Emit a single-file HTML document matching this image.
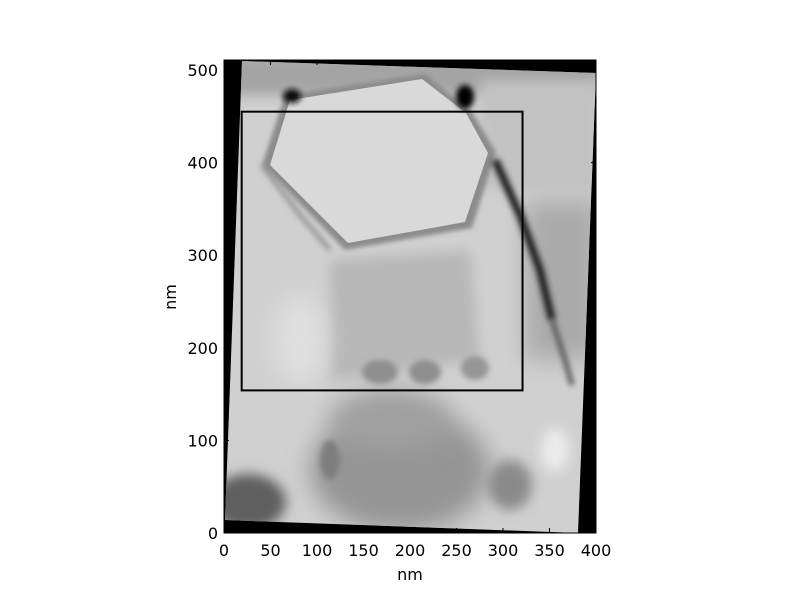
<!DOCTYPE html>
<html><head><meta charset="utf-8"><style>
html,body{margin:0;padding:0;background:#fff;}
svg{display:block;font-family:"DejaVu Sans","Liberation Sans",sans-serif;}
</style></head><body>
<svg id="chart" width="800" height="595" viewBox="0 0 800 595">
<defs>
<filter id="b6" x="-30%" y="-30%" width="160%" height="160%"><feGaussianBlur stdDeviation="6"/></filter>
<filter id="b3" x="-30%" y="-30%" width="160%" height="160%"><feGaussianBlur stdDeviation="3"/></filter>
<filter id="b2" x="-30%" y="-30%" width="160%" height="160%"><feGaussianBlur stdDeviation="2"/></filter>
<filter id="b12" x="-50%" y="-50%" width="200%" height="200%"><feGaussianBlur stdDeviation="12"/></filter>
<clipPath id="ax"><rect x="224" y="60" width="372" height="473"/></clipPath>
<clipPath id="img"><polygon points="242,61 596,73 578,533 225,520 "/></clipPath>
</defs>
<g clip-path="url(#ax)">
<rect x="224" y="60" width="372" height="473" fill="#000"/>
<g clip-path="url(#img)">
<rect x="220" y="55" width="380" height="485" fill="#d0d0d0"/>
<rect x="220" y="55" width="380" height="40" fill="#a4a4a4" filter="url(#b6)"/>
<rect x="480" y="80" width="120" height="110" fill="#c2c2c2" filter="url(#b6)"/>
<rect x="525" y="200" width="75" height="160" fill="#aaaaaa" filter="url(#b12)"/>
<polygon points="330,260 470,250 480,360 330,380" fill="#b8b8b8" filter="url(#b6)"/>
<ellipse cx="400" cy="470" rx="90" ry="62" fill="#959595" filter="url(#b12)"/>
<ellipse cx="390" cy="420" rx="60" ry="30" fill="#a0a0a0" filter="url(#b12)"/>
<ellipse cx="248" cy="502" rx="38" ry="28" fill="#5e5e5e" filter="url(#b6)"/>
<ellipse cx="380" cy="372" rx="18" ry="12" fill="#8e8e8e" filter="url(#b3)"/>
<ellipse cx="425" cy="372" rx="16" ry="12" fill="#8e8e8e" filter="url(#b3)"/>
<ellipse cx="475" cy="368" rx="14" ry="12" fill="#959595" filter="url(#b3)"/>
<ellipse cx="330" cy="460" rx="10" ry="20" fill="#7e7e7e" filter="url(#b3)"/>
<ellipse cx="510" cy="485" rx="22" ry="25" fill="#8a8a8a" filter="url(#b6)"/>
<ellipse cx="555" cy="450" rx="14" ry="22" fill="#ececec" filter="url(#b6)"/>
<ellipse cx="300" cy="340" rx="25" ry="45" fill="#e0e0e0" filter="url(#b12)"/>
<polygon points="285,95 425,74 472,112 496,152 472,228 345,250 262,165" fill="#8c8c8c" filter="url(#b2)"/>
<polygon points="290,100 422,79 466,113 488,153 465,222 348,243 270,165" fill="#d9d9d9"/>
<path d="M495,160 L520,215 L540,270 L552,320" stroke="#222" stroke-width="8" fill="none" filter="url(#b3)"/>
<path d="M552,320 L565,360 L572,385" stroke="#555" stroke-width="5" fill="none" filter="url(#b3)"/>
<ellipse cx="292" cy="96" rx="9" ry="7" fill="#111" filter="url(#b3)"/>
<ellipse cx="465" cy="97" rx="9" ry="12" fill="#000" filter="url(#b3)"/>
<path d="M262,165 L300,215 L330,250" stroke="#8a8a8a" stroke-width="4" fill="none" filter="url(#b3)"/>
</g>
</g>
<g id="overlay"></g>
<rect x="224" y="60" width="372" height="473" fill="none" stroke="#000" stroke-width="1"/>
<g id="axes"></g>
<text x="410" y="580" text-anchor="middle" font-size="16">nm</text>
<text x="176" y="297" text-anchor="middle" font-size="16" transform="rotate(-90 176 297)">nm</text>
</svg>
<script>
const xTicks = [0, 50, 100, 150, 200, 250, 300, 350, 400];
const yTicks = [0, 100, 200, 300, 400, 500];
const roiX = [19, 321];
const roiY = [154, 455];
const X0 = 224, X1 = 596, Y0 = 533;
const sx = v => X0 + (v / 400) * (X1 - X0);
const sy = v => Y0 - v * 0.926;
const NS = "http://www.w3.org/2000/svg";
const axes = document.getElementById('axes');
const ov = document.getElementById('overlay');
const r = document.createElementNS(NS, 'rect');
r.setAttribute('x', sx(roiX[0])); r.setAttribute('y', sy(roiY[1]));
r.setAttribute('width', sx(roiX[1]) - sx(roiX[0])); r.setAttribute('height', sy(roiY[0]) - sy(roiY[1]));
r.setAttribute('fill', 'none'); r.setAttribute('stroke', '#000'); r.setAttribute('stroke-width', '2');


ov.appendChild(r);
xTicks.forEach(v => {
  const x = sx(v);
  const l = document.createElementNS(NS, 'path');
  l.setAttribute('d', `M${x},${Y0} v-5 M${x},60 v5`); l.setAttribute('stroke', '#000');
  
  
  axes.appendChild(l);
  const t = document.createElementNS(NS, 'text');
  t.setAttribute('x', x); t.setAttribute('y', 556); t.setAttribute('text-anchor', 'middle'); t.setAttribute('font-size', '16');
  t.textContent = v;
  
  
  axes.appendChild(t);
});
yTicks.forEach(v => {
  const y = sy(v);
  const l = document.createElementNS(NS, 'path');
  l.setAttribute('d', `M${X0},${y} h5 M${X1},${y} h-5`); l.setAttribute('stroke', '#000');
  
  
  axes.appendChild(l);
  const t = document.createElementNS(NS, 'text');
  t.setAttribute('x', 218); t.setAttribute('y', y + 6); t.setAttribute('text-anchor', 'end'); t.setAttribute('font-size', '16');
  t.textContent = v;
  
  
  axes.appendChild(t);
});
</script>
</body></html>
